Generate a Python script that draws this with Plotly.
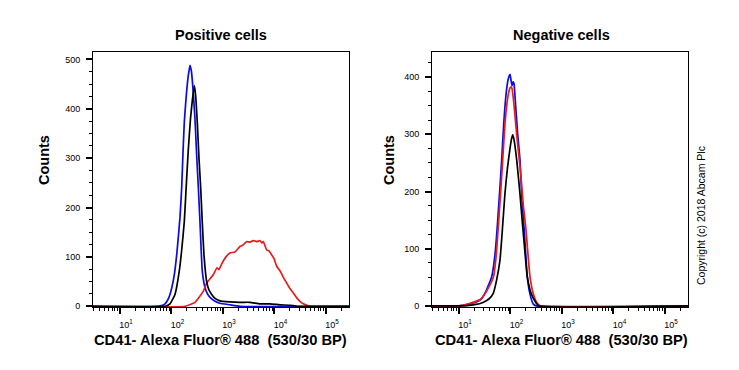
import plotly.graph_objects as go

# ---------------- data (x as log10 intensity, y = counts) ----------------
pos_blue_log = [0.40, 1.583, 1.777, 1.854, 1.913, 1.971, 2.049, 2.107, 2.165, 2.198, 2.223, 2.249, 2.282,
                2.320, 2.359, 2.388, 2.417, 2.456, 2.489, 2.524, 2.553, 2.598, 2.650, 2.699, 2.748,
                2.845, 2.942, 3.136, 3.330, 5.50]
pos_blue_cnt = [0, 0, 1, 3, 10, 24, 60, 110, 180, 240, 310, 373, 420,
                462, 488, 475, 441, 380, 306, 235, 172, 71, 38, 25, 18,
                10, 6, 3, 0, 0]

pos_black_log = [0.40, 1.874, 1.971, 2.068, 2.151, 2.204, 2.249, 2.295, 2.326, 2.369, 2.408, 2.443, 2.466,
                 2.501, 2.534, 2.567, 2.598, 2.631, 2.683, 2.728, 2.781, 2.845, 2.942, 3.136,
                 3.330, 3.524, 3.718, 3.913, 4.107, 4.301, 4.456, 5.50]
pos_black_cnt = [0, 0, 5, 24, 71, 120, 172, 260, 316, 380, 420, 447, 430,
                 373, 300, 240, 170, 104, 50, 33, 24, 16, 11, 9,
                 8, 8, 5, 5, 3, 2, 0, 0]

pos_red_log = [0.40, 2.262, 2.456, 2.617, 2.683, 2.812, 2.883, 2.922, 2.975, 3.058, 3.136, 3.233, 3.330,
               3.388, 3.460, 3.524, 3.588, 3.660, 3.718, 3.757, 3.783, 3.849, 3.893, 3.946, 3.990,
               4.043, 4.107, 4.165, 4.237, 4.301, 4.365, 4.431, 4.495, 4.559, 4.656, 4.728, 5.50]
pos_red_cnt = [0, 0, 8, 30, 47, 64, 78, 74, 86, 100, 108, 110, 121,
               124, 131, 130, 133, 131, 133, 128, 131, 114, 112, 104, 97,
               81, 72, 60, 47, 36, 27, 17, 10, 5, 1, 0, 0]

neg_blue_log = [0.40, 1.00, 1.20, 1.408, 1.52, 1.635, 1.70, 1.744, 1.79, 1.829, 1.87, 1.92, 1.96, 1.991,
                2.01, 2.03, 2.05, 2.068, 2.10, 2.14, 2.185, 2.22, 2.262, 2.30, 2.326, 2.38, 2.443,
                2.50, 5.50]
neg_blue_cnt = [0, 0, 3, 10, 25, 51, 90, 139, 200, 255, 320, 375, 398, 405,
                395, 385, 392, 389, 350, 300, 255, 190, 139, 85, 51, 20, 3,
                0, 0]

neg_red_log = [0.40, 1.00, 1.20, 1.43, 1.55, 1.67, 1.725, 1.764, 1.81, 1.849, 1.89, 1.94, 1.985, 2.01,
               2.03, 2.07, 2.12, 2.20, 2.25, 2.295, 2.34, 2.379, 2.44, 2.509, 2.58, 5.50]
neg_red_cnt = [0, 0, 4, 12, 28, 51, 90, 139, 200, 255, 315, 360, 380, 383,
               380, 350, 300, 230, 175, 139, 90, 51, 22, 6, 0, 0]

neg_black_log = [0.40, 1.10, 1.30, 1.466, 1.58, 1.666, 1.73, 1.796, 1.84, 1.893, 1.94, 1.99, 2.02, 2.043,
                 2.07, 2.121, 2.18, 2.237, 2.28, 2.326, 2.40, 2.476, 2.55, 5.50]
neg_black_cnt = [0, 0, 2, 6, 12, 22, 45, 80, 130, 197, 240, 275, 292, 299,
                 290, 255, 200, 139, 95, 51, 22, 8, 0, 0]

x_tick_exps = [1, 2, 3, 4, 5]
x_tick_text = ["10<sup>1</sup>", "10<sup>2</sup>", "10<sup>3</sup>", "10<sup>4</sup>", "10<sup>5</sup>"]
pos_y_ticks = [0, 100, 200, 300, 400, 500]
neg_y_ticks = [0, 100, 200, 300, 400]

panel_titles = ["Positive cells", "Negative cells"]
x_title = "CD41- Alexa Fluor® 488  (530/30 BP)"
y_title = "Counts"
copyright_text = "Copyright (c) 2018 Abcam Plc"

BLUE = "#0a0ae6"
BLACK = "#000000"
RED = "#e81c1c"
FONT = "Liberation Sans, Arial, sans-serif"

# page has an 8px body margin; figure sized to fill the rest of the window
OFF = 8
W, H = 739 - OFF, 370 - OFF


def px(x):
    return (x - OFF) / W


def py(y):
    return 1 - (y - OFF) / H


fig = go.Figure()


def add_line(xlog, cnt, color, xa, ya):
    fig.add_trace(go.Scatter(x=[10 ** v for v in xlog], y=cnt, mode="lines",
                             line=dict(color=color, width=1.7, shape="spline", smoothing=0.4),
                             xaxis=xa, yaxis=ya, showlegend=False, hoverinfo="skip"))


add_line(pos_blue_log, pos_blue_cnt, BLUE, "x", "y")
add_line(pos_red_log, pos_red_cnt, RED, "x", "y")
add_line(pos_black_log, pos_black_cnt, BLACK, "x", "y")
add_line(neg_blue_log, neg_blue_cnt, BLUE, "x2", "y2")
add_line(neg_red_log, neg_red_cnt, RED, "x2", "y2")
add_line(neg_black_log, neg_black_cnt, BLACK, "x2", "y2")

minor_x = [k * 10 ** d for d in range(0, 6) for k in range(2, 10)]


def xaxis(domain):
    return dict(type="log", domain=domain, range=[0.476, 5.447], automargin=False,
                tickmode="array", tickvals=[10 ** e for e in x_tick_exps], ticktext=x_tick_text,
                ticks="outside", ticklen=6, tickwidth=1.5, tickcolor="black",
                minor=dict(tickmode="array", tickvals=minor_x, ticks="outside", ticklen=3,
                           tickwidth=1, tickcolor="black", showgrid=False),
                showline=True, linecolor="black", linewidth=1, mirror=True,
                showgrid=False, zeroline=False,
                tickfont=dict(family=FONT, size=9, color="black"),
                ticklabelshift=6, ticklabelstandoff=3)


def yaxis(rng, ticks, anchor):
    return dict(domain=[py(307), py(52)], range=rng, anchor=anchor, automargin=False,
                tickmode="array", tickvals=ticks, ticktext=[str(t) for t in ticks],
                ticks="outside", ticklen=6, tickwidth=1.5, tickcolor="black",
                minor=dict(dtick=25, ticks="outside", ticklen=3, tickwidth=1, tickcolor="black",
                           showgrid=False),
                showline=True, linecolor="black", linewidth=1, mirror=True,
                showgrid=False, zeroline=False,
                tickfont=dict(family=FONT, size=9, color="black"), ticklabelstandoff=4)


fig.update_layout(
    width=W, height=H, margin=dict(l=0, r=0, t=0, b=0, autoexpand=False),
    paper_bgcolor="white", plot_bgcolor="white",
    xaxis=dict(xaxis([px(93), px(349)]), anchor="y"),
    yaxis=yaxis([-1.5, 515], pos_y_ticks, "x"),
    xaxis2=dict(xaxis([px(432), px(688)]), anchor="y2"),
    yaxis2=yaxis([-2, 444], neg_y_ticks, "x2"),
)

ann = []
for cx, title in zip([221, 561], panel_titles):
    ann.append(dict(x=px(cx), y=py(35), xref="paper", yref="paper", text="<b>%s</b>" % title,
                    showarrow=False, font=dict(family=FONT, size=14.5, color="black"),
                    xanchor="center", yanchor="middle"))
for cx in [220, 561]:
    ann.append(dict(x=px(cx), y=py(340), xref="paper", yref="paper", text="<b>%s</b>" % x_title,
                    showarrow=False, font=dict(family=FONT, size=14.7, color="black"),
                    xanchor="center", yanchor="middle"))
for cx in [44, 389]:
    ann.append(dict(x=px(cx), y=py(160), xref="paper", yref="paper", text="<b>%s</b>" % y_title,
                    showarrow=False, textangle=-90, font=dict(family=FONT, size=14.5, color="black"),
                    xanchor="center", yanchor="middle"))
ann.append(dict(x=px(701), y=py(216), xref="paper", yref="paper", text=copyright_text,
                showarrow=False, textangle=-90, font=dict(family=FONT, size=10.5, color="black"),
                xanchor="center", yanchor="middle"))
fig.update_layout(annotations=ann)

fig.write_html("out.html")
